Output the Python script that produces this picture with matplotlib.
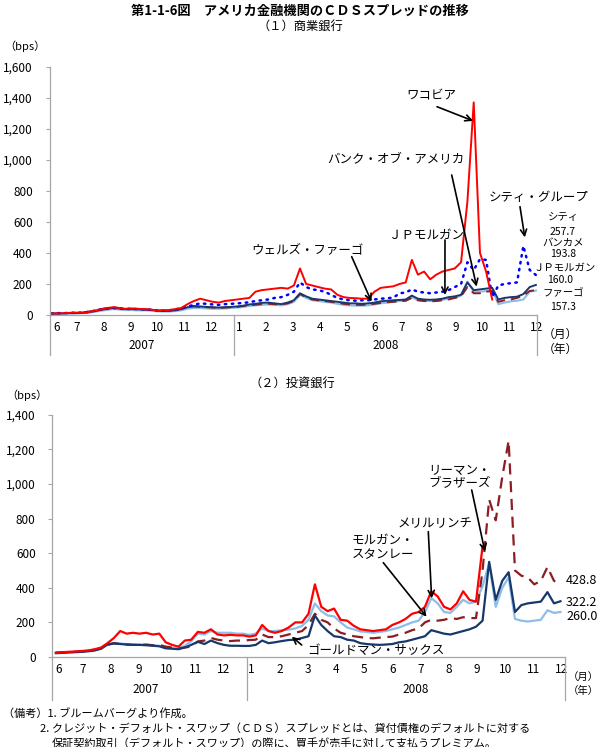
import numpy as np
import pandas as pd
import matplotlib
matplotlib.use('Agg')
import matplotlib.pyplot as plt
import matplotlib.transforms as mtrans

plt.rcParams['font.family'] = ['Noto Sans CJK JP', 'DejaVu Sans']

nan = np.nan
# weekly (Friday) observations, Jun 2007 - Dec 2008, bps
weeks = pd.date_range('2007-06-08', '2008-12-05', freq='W-FRI')

### (1) commercial banks
wachovia = [10, 10, 12, 14, 15, 15, 18, 28, 35, 45, 50, 45, 40, 42, 40, 38, 35,
            30, 30, 32, 38, 45, 70, 90, 105, 95, 85, 80, 90, 95,
            100, 105, 110, 150, 160, 165, 170, 175, 170, 190, 300, 200, 190,
            180, 170, 165, 130, 115, 110, 108, 105, 105, 150, 175, 180, 185,
            200, 210, 355, 260, 280, 230, 260, 280, 290, 300, 340, 730, 1370,
            400, 280, 100, nan, nan, nan, nan, nan, nan, nan]
citi = [10, 12, 12, 14, 15, 16, 20, 28, 35, 42, 45, 42, 38, 40, 38, 36, 34,
        30, 28, 30, 35, 45, 55, 65, 75, 72, 68, 65, 70, 72,
        75, 78, 82, 90, 95, 100, 110, 115, 130, 150, 210, 180, 165,
        160, 150, 130, 110, 100, 95, 92, 95, 95, 100, 105, 108, 112,
        140, 145, 165, 150, 145, 140, 145, 150, 160, 180, 200, 340, 290,
        360, 355, 115, 190, 200, 205, 210, 445, 290, 257.7]
bofa = [8, 9, 10, 12, 12, 14, 18, 25, 32, 40, 45, 42, 38, 38, 37, 35, 33,
        28, 26, 27, 30, 38, 50, 58, 55, 52, 50, 48, 50, 52,
        55, 60, 68, 72, 78, 80, 75, 70, 80, 95, 140, 120, 105,
        100, 95, 90, 85, 80, 75, 75, 72, 75, 80, 88, 92, 95,
        97, 100, 125, 105, 100, 98, 100, 105, 115, 120, 130, 210, 160,
        165, 170, 175, 100, 110, 115, 118, 135, 180, 193.8]
jpm = [9, 10, 12, 13, 14, 15, 22, 30, 38, 45, 50, 45, 42, 40, 38, 36, 34,
       30, 28, 28, 32, 40, 50, 55, 52, 50, 48, 46, 48, 50,
       52, 58, 62, 66, 70, 72, 70, 68, 75, 90, 135, 115, 100,
       95, 90, 85, 80, 72, 68, 66, 65, 68, 72, 78, 82, 85,
       88, 92, 110, 95, 90, 88, 90, 95, 100, 110, 120, 180, 140,
       140, 150, 155, 85, 95, 100, 110, 125, 155, 160.0]
wells = [7, 8, 9, 10, 10, 12, 15, 20, 28, 32, 38, 35, 32, 32, 30, 30, 28,
         24, 22, 22, 25, 30, 40, 45, 45, 42, 40, 40, 42, 45,
         48, 52, 58, 62, 65, 68, 65, 62, 70, 85, 130, 110, 95,
         90, 85, 80, 72, 65, 62, 60, 60, 62, 68, 75, 80, 85,
         90, 92, 115, 95, 92, 90, 92, 98, 105, 110, 125, 215, 150,
         150, 155, 160, 70, 80, 88, 92, 100, 150, 157.3]

### (2) investment banks
lehman = [25, 28, 30, 32, 35, 38, 45, 55, 80, 110, 150, 135, 140, 135, 140, 130, 135,
          85, 70, 60, 95, 100, 145, 140, 160, 130, 125, 128, 125, 125,
          118, 125, 185, 150, 140, 150, 170, 200, 200, 250, 420, 290, 265,
          280, 215, 210, 180, 160, 155, 150, 155, 160, 185, 200, 220, 250,
          260, 290, 380, 350, 290, 275, 310, 380, 330, 320, 640, nan, nan,
          nan, nan, nan, nan, nan, nan, nan, nan, nan, nan]
morgan = [25, 27, 28, 30, 32, 35, 40, 50, 70, 80, 75, 72, 70, 70, 72, 68, 70,
          60, 55, 50, 55, 60, 90, 95, 110, 100, 95, 92, 95, 95,
          98, 100, 130, 115, 115, 120, 130, 140, 150, 185, 250, 215, 200,
          165, 140, 130, 120, 115, 110, 108, 112, 115, 118, 130, 140, 155,
          165, 200, 215, 210, 215, 225, 220, 230, 225, 225, 500, 910, 790,
          1040, 1250, 500, 470, 460, 420, 440, 520, 440, 428.8]
goldman = [22, 24, 26, 28, 30, 33, 38, 48, 72, 78, 75, 72, 70, 70, 68, 65, 62,
           50, 48, 45, 55, 70, 88, 75, 95, 80, 70, 65, 65, 64,
           64, 70, 95, 80, 85, 92, 98, 100, 110, 120, 240, 185, 150,
           120, 115, 100, 95, 80, 75, 72, 70, 72, 75, 85, 90, 100,
           110, 120, 155, 145, 135, 130, 140, 150, 160, 175, 210, 550, 330,
           440, 490, 260, 300, 310, 315, 320, 375, 310, 322.2]
merrill = [24, 26, 28, 30, 33, 36, 42, 50, 75, 80, 78, 75, 72, 72, 70, 68, 65,
           55, 50, 50, 65, 90, 135, 130, 150, 140, 140, 140, 135, 135,
           128, 135, 165, 150, 150, 155, 158, 165, 180, 215, 310, 265, 240,
           235, 200, 170, 160, 148, 145, 140, 145, 150, 160, 170, 185, 200,
           210, 260, 340, 310, 260, 255, 290, 330, 310, 320, 410, 540, 290,
           400, 460, 220, 210, 205, 210, 215, 270, 255, 260.0]

month_labels = ['6', '7', '8', '9', '10', '11', '12',
                '1', '2', '3', '4', '5', '6', '7', '8', '9', '10', '11', '12']

# month number counted from 1 Jun 2007
x = np.array([(d.year - 2007) * 12 + d.month - 6 + (d.day - 1) / d.days_in_month
              for d in weeks])

W, H = 600, 747
fig = plt.figure(figsize=(6, 7.47), dpi=100)

RED = '#ff0000'
BLUE = '#0000ff'
DARKRED = '#8c1d22'
NAVY = '#17386a'
LIGHT = '#8dbde9'
GREY = '#a6a6a6'


def put(px, py, s, **kw):
    kw.setdefault('ha', 'center')
    kw.setdefault('va', 'center')
    fig.text(px / W, 1 - py / H, s, **kw)


def style_axes(ax, ymax, step, xl, xr, sep_len, label6):
    ax.set_xlim(xl, xr)
    ax.set_ylim(0, ymax)
    ax.set_yticks(np.arange(0, ymax + 1, step))
    ax.set_yticklabels(['{:,}'.format(v) for v in np.arange(0, ymax + 1, step)],
                       fontsize=8.5)
    ax.tick_params(axis='y', length=3, width=0.8, color=GREY, pad=9)
    for s in ['top', 'right']:
        ax.spines[s].set_visible(False)
    for s in ['left', 'bottom']:
        ax.spines[s].set_color(GREY)
        ax.spines[s].set_linewidth(0.9)
    pos = [label6] + [i + 0.17 for i in range(1, 19)]
    ax.set_xticks(pos)
    ax.set_xticklabels(month_labels, fontsize=8.5)
    ax.tick_params(axis='x', length=0, pad=4)
    tr = mtrans.blended_transform_factory(ax.transData, ax.transAxes)
    for m in [xl, 7.0, xr]:
        ax.plot([m, m], [0, -sep_len], color=GREY, lw=0.9, transform=tr,
                clip_on=False)
    return tr


arrow = dict(arrowstyle='->', color='black', lw=1.2, shrinkA=0, shrinkB=0,
             mutation_scale=11)

# ---------------- (1) 商業銀行
ax1 = fig.add_axes([49.5 / W, 1 - 315 / H, 487.5 / W, 248.3 / H])
tr1 = style_axes(ax1, 1600, 200, 0.17, 18.16, 40 / 248.3, 0.44)
ax1.plot(x, wells, color=LIGHT, lw=1.5)
ax1.plot(x, jpm, color=DARKRED, lw=1.4, dashes=(5, 3))
ax1.plot(x, bofa, color=NAVY, lw=1.4)
ax1.plot(x, citi, color=BLUE, lw=1.8, dashes=(0.6, 2.2), dash_capstyle='round')
ax1.plot(x, wachovia, color=RED, lw=1.4)
ax1.text(3.58, -0.121, '2007', transform=tr1, ha='center', va='center', fontsize=8.5)
ax1.text(12.6, -0.121, '2008', transform=tr1, ha='center', va='center', fontsize=8.5)

put(300, 11, '第1-1-6図　アメリカ金融機関のＣＤＳスプレッドの推移',
    fontsize=9.5, fontweight='bold')
put(300, 27, '（１）商業銀行', fontsize=8.8)
put(25, 46, '（bps）', fontsize=8)
put(560, 334, '（月）', fontsize=8.5)
put(560, 349, '（年）', fontsize=8.5)

put(431, 96, 'ワコビア', fontsize=9)
ax1.annotate('', xy=(15.81, 1251), xytext=(437, H - 106.7),
             textcoords='figure pixels', arrowprops=arrow)
put(396, 160, 'バンク・オブ・アメリカ', fontsize=9)
ax1.annotate('', xy=(15.94, 183), xytext=(451.7, H - 175),
             textcoords='figure pixels', arrowprops=arrow)
put(539, 197, 'シティ・グループ', fontsize=9)
ax1.annotate('', xy=(17.72, 500), xytext=(520, H - 206.7),
             textcoords='figure pixels', arrowprops=arrow)
put(426, 235, 'ＪＰモルガン', fontsize=9)
ax1.annotate('', xy=(14.77, 129), xytext=(445, H - 240),
             textcoords='figure pixels', arrowprops=arrow)
put(307, 250, 'ウェルズ・ファーゴ', fontsize=9)
ax1.annotate('', xy=(12.06, 86), xytext=(351.7, H - 256.7),
             textcoords='figure pixels', arrowprops=arrow)

put(563, 217, 'シティ', fontsize=7.5)
put(563, 232, '257.7', fontsize=7.5)
put(563, 243, 'バンカメ', fontsize=7.5)
put(563, 254, '193.8', fontsize=7.5)
put(565, 268, 'ＪＰモルガン', fontsize=7.5)
put(560, 280, '160.0', fontsize=7.5)
put(563, 293, 'ファーゴ', fontsize=7.5)
put(563, 307, '157.3', fontsize=7.5)

# ---------------- (2) 投資銀行
ax2 = fig.add_axes([52.3 / W, 1 - 657 / H, 512.7 / W, 242.2 / H])
tr2 = style_axes(ax2, 1400, 200, 0.106, 18.29, 43 / 242.2, 0.32)
ax2.plot(x, merrill, color=LIGHT, lw=1.6)
ax2.plot(x, morgan, color=DARKRED, lw=1.6, dashes=(5, 3))
ax2.plot(x, goldman, color=NAVY, lw=1.6)
ax2.plot(x, lehman, color=RED, lw=1.6)
ax2.text(3.4, -0.135, '2007', transform=tr2, ha='center', va='center', fontsize=8.5)
ax2.text(13.0, -0.135, '2008', transform=tr2, ha='center', va='center', fontsize=8.5)

put(292, 384, '（２）投資銀行', fontsize=8.8)
put(27, 395, '（bps）', fontsize=8)
put(599, 677, '（月）', fontsize=7.5, ha='right')
put(599, 691, '（年）', fontsize=7.5, ha='right')

put(428, 470, 'リーマン・', fontsize=9, ha='left')
put(428, 484, 'ブラザーズ', fontsize=9, ha='left')
ax2.annotate('', xy=(15.45, 609), xytext=(471.7, H - 490),
             textcoords='figure pixels', arrowprops=arrow)
put(435, 524, 'メリルリンチ', fontsize=9)
ax2.annotate('', xy=(13.56, 339), xytext=(428.3, H - 531.7),
             textcoords='figure pixels', arrowprops=arrow)
put(352, 540, 'モルガン・', fontsize=9, ha='left')
put(352, 555, 'スタンレー', fontsize=9, ha='left')
ax2.annotate('', xy=(13.38, 233), xytext=(383.3, H - 562.7),
             textcoords='figure pixels', arrowprops=arrow)
put(376, 650, 'ゴールドマン・サックス', fontsize=9)
ax2.annotate('', xy=(8.6, 117), xytext=(301.7, H - 645),
             textcoords='figure pixels', arrowprops=arrow)

put(566, 580, '428.8', fontsize=9, ha='left')
put(566, 603, '322.2', fontsize=9, ha='left')
put(566, 617, '260.0', fontsize=9, ha='left')

# ---------------- notes
put(3, 713, '（備考）1. ブルームバーグより作成。', fontsize=8, ha='left')
put(40, 729, '2. クレジット・デフォルト・スワップ（ＣＤＳ）スプレッドとは、貸付債権のデフォルトに対する',
    fontsize=8, ha='left')
put(52, 743, '保証契約取引（デフォルト・スワップ）の際に、買手が売手に対して支払うプレミアム。',
    fontsize=8, ha='left')

fig.savefig('out.png', dpi=100)
